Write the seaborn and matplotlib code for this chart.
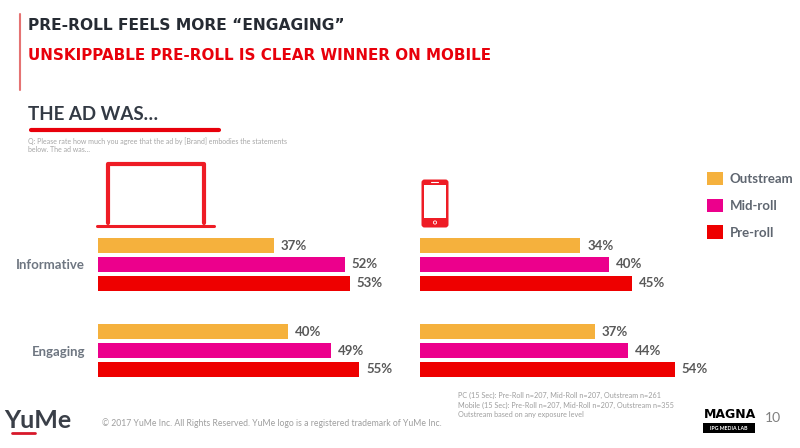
import numpy as np
import pandas as pd
import matplotlib
matplotlib.use('Agg')
import matplotlib.pyplot as plt
import seaborn as sns
from matplotlib.patches import FancyBboxPatch, Rectangle, Circle, Patch

# data
metrics = ['Informative', 'Engaging']
formats = ['Outstream', 'Mid-roll', 'Pre-roll']
pc_outstream = [37, 40]
pc_midroll = [52, 49]
pc_preroll = [53, 55]
mob_outstream = [34, 37]
mob_midroll = [40, 44]
mob_preroll = [45, 54]

colors = ['#F5B13D', '#EC008C', '#EE0000']
W, H = 800, 448


def long_table(outstream, midroll, preroll):
    '''returns a long dataframe for one device'''
    rows = []
    for fmt, vals in zip(formats, [outstream, midroll, preroll]):
        for m, v in zip(metrics, vals):
            rows.append({'metric': m, 'format': fmt, 'value': v})
    return pd.DataFrame(rows)


def px_axes(fig, x0, y0, x1, y1):
    '''axes placed by pixel box of the 800x448 slide'''
    return fig.add_axes([x0 / W, 1 - y1 / H, (x1 - x0) / W, (y1 - y0) / H])


sns.set_theme(style='white')
plt.rcParams['font.family'] = ['Lato', 'DejaVu Sans']

fig = plt.figure(figsize=(8, 4.48), dpi=100)

# overlay in pixel coords for the slide furniture
ov = fig.add_axes([0, 0, 1, 1], zorder=0)
ov.set_xlim(0, W)
ov.set_ylim(H, 0)
ov.axis('off')

# bar panels, 60% spans 285px (pc) / 283px (mobile)
ax1 = px_axes(fig, 98, 230, 383, 385)
ax2 = px_axes(fig, 420, 230, 703, 385)

panels = [(ax1, long_table(pc_outstream, pc_midroll, pc_preroll)),
          (ax2, long_table(mob_outstream, mob_midroll, mob_preroll))]

for ax, df in panels:
    sns.barplot(data=df, y='metric', x='value', hue='format', order=metrics,
                hue_order=formats, palette=colors, width=0.66, gap=0.18,
                orient='h', legend=False, ax=ax, saturation=1,
                edgecolor='none')
    for c in ax.containers:
        ax.bar_label(c, fmt='%d%%', padding=5, color='#595959',
                     fontsize=9.5, fontweight='bold')
    ax.set_xlim(0, 60)
    ax.set_ylim(1.401, -0.401)
    ax.set_xlabel('')
    ax.set_ylabel('')
    ax.set_xticks([])
    sns.despine(ax=ax, left=True, bottom=True)
    ax.patch.set_alpha(0)

ax1.tick_params(axis='y', length=0, pad=9.4)
for t in ax1.get_yticklabels():
    t.set_color('#6E7681')
    t.set_fontweight('bold')
    t.set_fontsize(9.5)
ax2.set_yticks([])

# legend
handles = [Patch(facecolor=c, edgecolor='none') for c in colors]
fig.legend(handles, formats, loc='upper left',
           bbox_to_anchor=(695 / W, 1 - 160 / H), frameon=False,
           handlelength=1.2, handleheight=1.2, labelspacing=1.0,
           handletextpad=0.55, prop={'family': 'Lato', 'size': 9.5, 'weight': 'bold'},
           labelcolor='#5F6670')

# headings
ov.plot([20, 20], [14, 90], color='#E57373', lw=1.5)
ov.text(28, 26, 'PRE-ROLL FEELS MORE \u201cENGAGING\u201d', fontsize=11.2,
        fontweight='bold', color='#262B33', va='center', family='DejaVu Sans')
ov.text(28, 56, 'UNSKIPPABLE PRE-ROLL IS CLEAR WINNER ON MOBILE', fontsize=10.9,
        fontweight='bold', color='#E8000B', va='center', family='DejaVu Sans')
ov.text(28, 115, 'THE AD WAS\u2026', fontsize=13.5, fontweight='bold',
        color='#333A44', va='center')
ov.plot([31, 219], [130, 130], color='#E8000B', lw=3, solid_capstyle='round')
ov.text(28, 141, 'Q: Please rate how much you agree that the ad by [Brand] embodies the statements',
        fontsize=5.0, color='#A6A6A6', va='center')
ov.text(28, 150, 'below. The ad was\u2026', fontsize=5.0, color='#A6A6A6', va='center')

# laptop icon
ov.plot([108, 108, 204, 204], [223, 164, 164, 223], color='#EE1C25', lw=3,
        solid_joinstyle='round')
ov.plot([97, 214], [226, 226], color='#EE1C25', lw=2.2, solid_capstyle='round')

# phone icon
ov.add_patch(FancyBboxPatch((421.5, 179.5), 27, 48, boxstyle='round,pad=0,rounding_size=3',
                            facecolor='#EE1C25', edgecolor='none'))
ov.add_patch(Rectangle((424, 185), 22, 33, facecolor='white', edgecolor='none'))
ov.plot([431, 438], [182, 182], color='white', lw=0.8)
ov.add_patch(Circle((435, 222.5), 1.6, facecolor='none', edgecolor='white', lw=0.6))

# footer
ov.text(4, 420, 'YuMe', fontsize=18, fontweight='bold', color='#3A3F48',
        va='center')
ov.plot([12, 35], [433, 433], color='#D7182A', lw=2)
ov.text(102, 423, '\u00a9 2017 YuMe Inc. All Rights Reserved. YuMe logo is a registered trademark of YuMe Inc.',
        fontsize=6.2, color='#9E9E9E', va='center')
notes = ['PC (15 Sec): Pre-Roll n=207, Mid-Roll n=207, Outstream n=261',
         'Mobile (15 Sec): Pre-Roll n=207, Mid-Roll n=207, Outstream n=355',
         'Outstream based on any exposure level']
for i, n in enumerate(notes):
    ov.text(458, 395 + 10 * i, n, fontsize=5.2, color='#9E9E9E', va='center')

ov.text(704, 415, 'MAGNA', fontsize=9, fontweight='black', color='black',
        va='center', family='DejaVu Sans')
ov.add_patch(Rectangle((703, 423), 52, 10, facecolor='black', edgecolor='none'))
ov.text(729, 428, 'IPG MEDIA LAB', fontsize=3.8, color='white', fontweight='bold',
        va='center', ha='center')
ov.text(765, 418, '10', fontsize=10, color='#7F7F7F', va='center')

fig.savefig('out.png', dpi=100)
